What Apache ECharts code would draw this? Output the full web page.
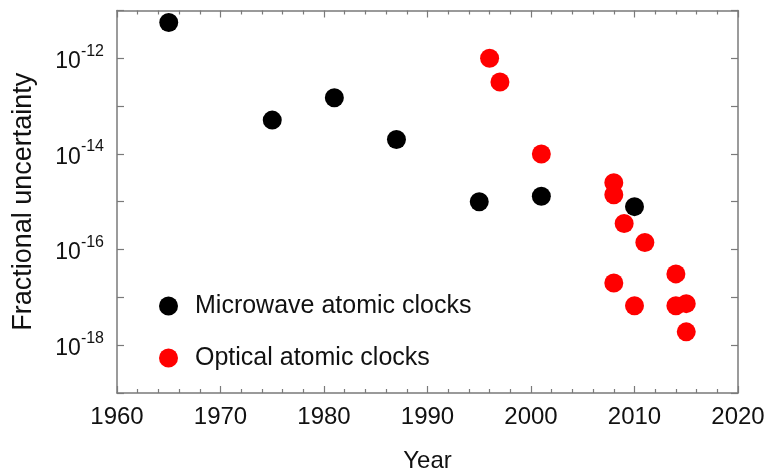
<!DOCTYPE html>
<html>
<head>
<meta charset="utf-8">
<script src="https://cdn.jsdelivr.net/npm/echarts@6/dist/echarts.min.js"></script>
<style>
  html, body { margin: 0; padding: 0; background: #fff; }
  #chart { width: 768px; height: 473px; }
</style>
</head>
<body>
<div id="chart"></div>
<script>
// Clock accuracy over time
const microwaveYears = [1965, 1975, 1981, 1987, 1995, 2001, 2010];
const microwaveValues = [5.6e-12, 5.1e-14, 1.5e-13, 2.0e-14, 1.0e-15, 1.3e-15, 7.9e-16];

const opticalYears = [1996, 1997, 2001, 2008, 2008, 2009, 2011, 2008, 2010, 2014, 2014, 2015, 2015];
const opticalValues = [1.0e-12, 3.2e-13, 1.0e-14, 2.5e-15, 1.4e-15, 3.5e-16, 1.4e-16, 2.0e-17, 6.7e-18, 3.1e-17, 6.7e-18, 7.4e-18, 1.9e-18];

const seriesNames = ['Microwave atomic clocks', 'Optical atomic clocks'];
const xRange = [1960, 2020];
const yRange = [1e-19, 1e-11];

const FONT = '"Liberation Sans", Arial, sans-serif';
const AXIS_COLOR = '#7a7a7a';
const TEXT_COLOR = '#111111';

const pair = (xs, ys) => xs.map((x, i) => [x, ys[i]]);

const chart = echarts.init(document.getElementById('chart'), null, { renderer: 'canvas' });

const xBase = {
  type: 'value',
  min: xRange[0],
  max: xRange[1],
  interval: 10,
  axisLine: { show: true, onZero: false, lineStyle: { color: AXIS_COLOR, width: 1.5 } },
  axisTick: { show: true, inside: true, length: 7, lineStyle: { color: AXIS_COLOR, width: 1.2 } },
  minorTick: { show: true, splitNumber: 5, length: 4, lineStyle: { color: AXIS_COLOR, width: 1.2 } },
  splitLine: { show: false }
};

const yBase = {
  type: 'log',
  logBase: 10,
  min: yRange[0],
  max: yRange[1],
  interval: 1,
  axisLine: { show: true, onZero: false, lineStyle: { color: AXIS_COLOR, width: 1.5 } },
  axisTick: { show: true, inside: true, length: 7, lineStyle: { color: AXIS_COLOR, width: 1.2 } },
  minorTick: { show: false },
  splitLine: { show: false }
};

chart.setOption({
  backgroundColor: '#fff',
  animation: false,
  textStyle: { fontFamily: FONT },
  grid: { left: 117, right: 30, top: 10.5, bottom: 80, containLabel: false, outerBoundsMode: 'none' },
  legend: {
    orient: 'vertical',
    left: 154,
    top: 288,
    itemWidth: 19,
    itemHeight: 19,
    itemGap: 26,
    icon: 'circle',
    selectedMode: false,
    textStyle: { fontFamily: FONT, fontSize: 25, color: TEXT_COLOR, lineHeight: 26, padding: [0, 0, 0, 12] },
    data: seriesNames
  },
  xAxis: [
    Object.assign({}, xBase, {
      position: 'bottom',
      name: 'Year',
      nameLocation: 'middle',
      nameGap: 56,
      nameTextStyle: { fontFamily: FONT, fontSize: 24, color: TEXT_COLOR },
      axisLabel: {
        show: true, margin: 12, fontFamily: FONT, fontSize: 24, color: TEXT_COLOR,
        formatter: function (v) { return String(v); }
      }
    }),
    Object.assign({}, xBase, {
      position: 'top',
      axisLabel: { show: false }
    })
  ],
  yAxis: [
    Object.assign({}, yBase, {
      position: 'left',
      name: 'Fractional uncertainty',
      nameLocation: 'middle',
      nameGap: 80,
      nameTextStyle: { fontFamily: FONT, fontSize: 27, color: TEXT_COLOR },
      axisLabel: {
        show: true,
        margin: 13,
        color: TEXT_COLOR,
        formatter: function (v) {
          const e = Math.round(Math.log10(v));
          if (e % 2 !== 0) return '';
          return '{a|10}{b|' + e + '}';
        },
        rich: {
          a: { fontFamily: FONT, fontSize: 23, color: TEXT_COLOR, lineHeight: 30, verticalAlign: 'bottom' },
          b: { fontFamily: FONT, fontSize: 16, color: TEXT_COLOR, lineHeight: 30, verticalAlign: 'top' }
        }
      }
    }),
    Object.assign({}, yBase, {
      position: 'right',
      axisLabel: { show: false }
    })
  ],
  series: [
    {
      name: seriesNames[0],
      type: 'scatter',
      symbol: 'circle',
      symbolSize: 19,
      itemStyle: { color: '#000000', opacity: 1 },
      data: pair(microwaveYears, microwaveValues)
    },
    {
      name: seriesNames[1],
      type: 'scatter',
      symbol: 'circle',
      symbolSize: 19,
      itemStyle: { color: '#ff0000', opacity: 1 },
      data: pair(opticalYears, opticalValues)
    }
  ]
});
</script>
</body>
</html>
